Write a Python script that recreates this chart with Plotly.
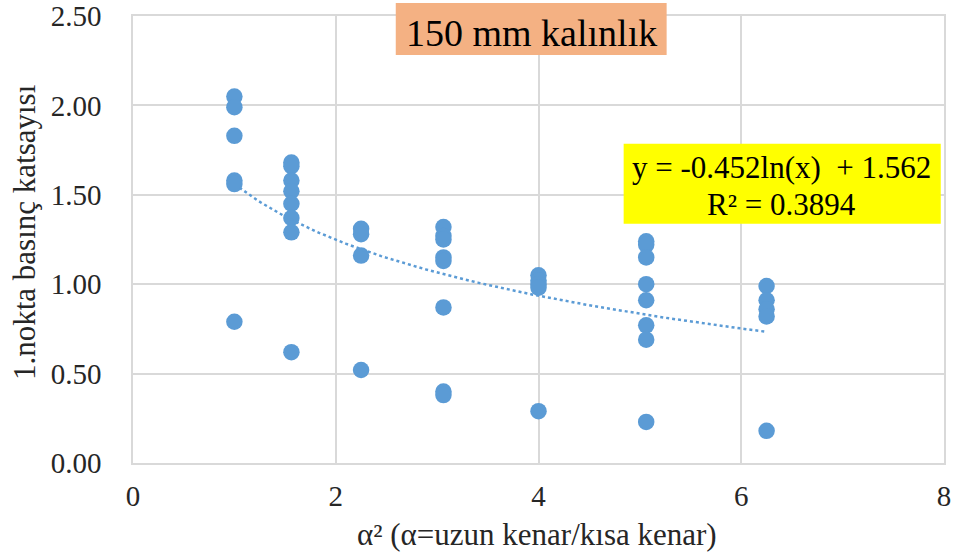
import numpy as np
import plotly.graph_objects as go

x_vals = [1, 1, 1, 1, 1, 1,
          1.5625, 1.5625, 1.5625, 1.5625, 1.5625, 1.5625, 1.5625, 1.5625,
          2.25, 2.25, 2.25, 2.25,
          3.0625, 3.0625, 3.0625, 3.0625, 3.0625, 3.0625, 3.0625, 3.0625,
          4, 4, 4, 4, 4,
          5.0625, 5.0625, 5.0625, 5.0625, 5.0625, 5.0625, 5.0625, 5.0625,
          6.25, 6.25, 6.25, 6.25, 6.25]
y_vals = [2.05, 1.99, 1.83, 1.58, 1.56, 0.79,
          1.68, 1.66, 1.58, 1.52, 1.45, 1.37, 1.29, 0.62,
          1.31, 1.28, 1.16, 0.52,
          1.32, 1.27, 1.25, 1.15, 1.13, 0.87, 0.40, 0.38,
          1.05, 1.02, 1.00, 0.98, 0.29,
          1.24, 1.22, 1.15, 1.00, 0.91, 0.77, 0.69, 0.23,
          0.99, 0.91, 0.86, 0.82, 0.18]

# logarithmic trendline coefficients shown on the chart
trend_a = -0.452
trend_b = 1.562
r_squared = 0.3894

x_ticks = [0, 2, 4, 6, 8]
y_ticks = [0, 0.5, 1.0, 1.5, 2.0, 2.5]

serif = "Liberation Serif"
blue = "#5b9bd5"
grid = "#d9d9d9"

fig = go.Figure()

fig.add_trace(go.Scatter(
    x=x_vals, y=y_vals, mode="markers",
    marker=dict(size=16.5, color=blue),
    showlegend=False,
))

tx = np.linspace(min(x_vals) + 0.05, max(x_vals), 120)
fig.add_trace(go.Scatter(
    x=tx, y=trend_a * np.log(tx) + trend_b, mode="lines",
    line=dict(color=blue, width=2.5, dash="dot"),
    showlegend=False,
))

axis_style = dict(
    showgrid=True, gridcolor=grid, gridwidth=1.5,
    zeroline=False, showline=True, linecolor=grid, linewidth=1.5,
    mirror=True, ticks="", automargin=False, ticklabeloverflow="allow",
    tickfont=dict(family=serif, size=29, color="#262626"),
)

fig.update_layout(
    width=957, height=558,
    margin=dict(l=133, r=13, t=16, b=95),
    paper_bgcolor="white", plot_bgcolor="white",
    font=dict(family=serif, size=29, color="#262626"),
    xaxis=dict(range=[0, 8], tickvals=x_ticks, ticklabelstandoff=6, **axis_style),
    yaxis=dict(range=[0, 2.5], tickvals=y_ticks, tickformat=".2f",
               ticklabelstandoff=24, **axis_style),
)

# axis titles
fig.add_annotation(
    xref="paper", yref="paper", x=0.498, y=-0.161, xanchor="center", yanchor="middle",
    text="α² (α=uzun kenar/kısa kenar)", showarrow=False,
    font=dict(family=serif, size=31, color="#262626"),
)
fig.add_annotation(
    xref="paper", yref="paper", x=-0.133, y=0.517, xanchor="center", yanchor="middle",
    text="1.nokta basınç katsayısı", showarrow=False, textangle=-90,
    font=dict(family=serif, size=31, color="#262626"),
)

# title box
fig.add_shape(type="rect", xref="paper", yref="paper",
              x0=0.324, x1=0.658, y0=0.913, y1=1.029,
              fillcolor="#f4b183", line=dict(width=0), layer="above")
fig.add_annotation(
    xref="paper", yref="paper", x=0.491, y=0.962, xanchor="center", yanchor="middle",
    text="150 mm kalınlık", showarrow=False,
    font=dict(family=serif, size=38, color="#000000"),
)

# trendline equation box
fig.add_shape(type="rect", xref="paper", yref="paper",
              x0=0.605, x1=0.996, y0=0.535, y1=0.714,
              fillcolor="#ffff00", line=dict(width=0), layer="above")
fig.add_annotation(
    xref="paper", yref="paper", x=0.800, y=0.660, xanchor="center", yanchor="middle",
    text=f"y = {trend_a}ln(x)  + {trend_b}", showarrow=False,
    font=dict(family=serif, size=31, color="#000000"),
)
fig.add_annotation(
    xref="paper", yref="paper", x=0.800, y=0.579, xanchor="center", yanchor="middle",
    text=f"R² = {r_squared}", showarrow=False,
    font=dict(family=serif, size=31, color="#000000"),
)

# drop the default body margin so the figure fills the window
fig.write_html("out.html", config={"displayModeBar": False},
               post_script="document.body.style.margin='0';")
